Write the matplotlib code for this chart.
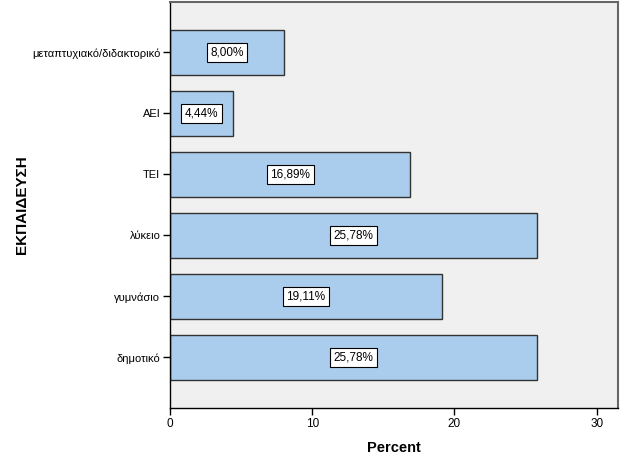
import matplotlib
matplotlib.use('Agg')
import matplotlib.pyplot as plt

plt.rcParams['font.family'] = ['Liberation Sans', 'DejaVu Sans']

# δεδομένα (από κάτω προς τα πάνω)
categories = ['δημοτικό', 'γυμνάσιο', 'λύκειο', 'TEI', 'AEI', 'μεταπτυχιακό/διδακτορικό']
percents = [25.78, 19.11, 25.78, 16.89, 4.44, 8.00]
bar_labels = ['25,78%', '19,11%', '25,78%', '16,89%', '4,44%', '8,00%']

fig = plt.figure(figsize=(6.26, 4.68), dpi=100)
ax = fig.add_axes([0.2716, 0.128, 0.7155, 0.868])
ax.set_facecolor('#f0f0f0')

ypos = range(len(categories))
ax.barh(ypos, percents, height=0.75, color='#aacdee', edgecolor='#333333', linewidth=1.0)

for y, v, lab in zip(ypos, percents, bar_labels):
    ax.text(v / 2, y, lab, ha='center', va='center', fontsize=8.5,
            bbox=dict(boxstyle='square,pad=0.3', facecolor='white', edgecolor='black', linewidth=0.8))

ax.set_xlim(0, 31.5)
ax.set_ylim(-0.83, 5.83)
ax.set_yticks(list(ypos))
ax.set_yticklabels(categories, fontsize=8)
ax.set_xticks([0, 10, 20, 30])
ax.tick_params(axis='both', direction='out', length=5, width=1, labelsize=8.5, pad=2)
ax.tick_params(axis='y', labelsize=8)

ax.set_xlabel('Percent', fontsize=10.5, fontweight='bold', labelpad=8)
ax.set_ylabel('ΕΚΠΑΙΔΕΥΣΗ', fontsize=11, fontweight='bold')
ax.yaxis.set_label_coords(-0.315, 0.5)

for s in ['left', 'bottom']:
    ax.spines[s].set_color('black')
    ax.spines[s].set_linewidth(1.0)
for s in ['top', 'right']:
    ax.spines[s].set_color('#666666')
    ax.spines[s].set_linewidth(1.5)

fig.savefig('out.png', dpi=100)
